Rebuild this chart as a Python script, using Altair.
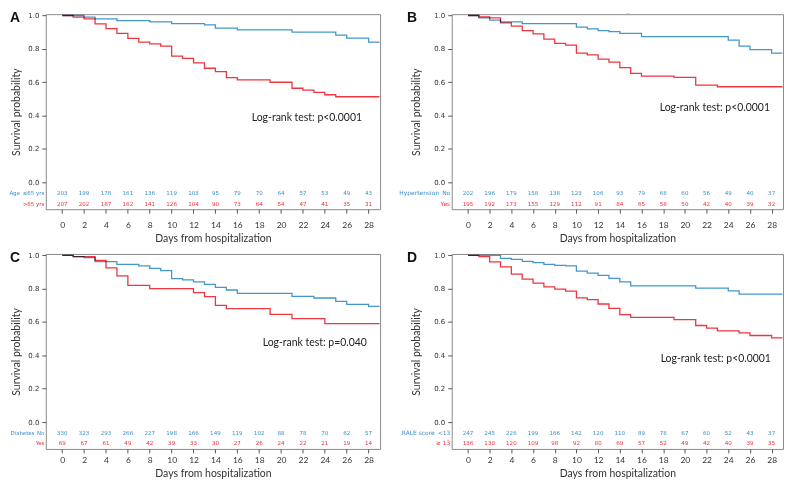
import altair as alt
import pandas as pd

BLUE = "#4596c9"
RED = "#ee3640"
BLUE_TXT = "#3b8fc6"
RED_TXT = "#ee2f3a"

DAY_TICKS = list(range(0, 29, 2))
SURV_TICKS = [0.0, 0.2, 0.4, 0.6, 0.8, 1.0]

# ---------------- Panel A: Age ----------------
A_b_days = [0, 2, 3, 5, 8, 10, 13, 14, 16, 21, 25, 26, 28, 29]
A_b_surv = [1.0, 0.990, 0.980, 0.970, 0.962, 0.952, 0.944, 0.924, 0.914, 0.900, 0.883, 0.865, 0.841, 0.841]
A_r_days = [0, 1, 2, 3, 4, 5, 6, 7, 8, 9, 10, 11, 12, 13, 14, 15, 16, 19, 21, 22, 23, 24, 25, 29]
A_r_surv = [1.0, 0.990, 0.980, 0.950, 0.922, 0.893, 0.863, 0.840, 0.830, 0.817, 0.757, 0.743, 0.716,
            0.684, 0.664, 0.628, 0.614, 0.600, 0.564, 0.553, 0.539, 0.525, 0.513, 0.513]
A_b_n = [203, 199, 178, 161, 136, 119, 103, 95, 79, 70, 64, 57, 53, 49, 43]
A_r_n = [207, 202, 187, 162, 141, 126, 104, 90, 73, 64, 54, 47, 41, 35, 31]

# ---------------- Panel B: Hypertension ----------------
B_b_days = [0, 1, 2, 3, 5, 10, 11, 12, 13, 14, 16, 24, 25, 26, 28, 29]
B_b_surv = [1.0, 0.986, 0.972, 0.962, 0.952, 0.930, 0.920, 0.909, 0.903, 0.893, 0.873, 0.853, 0.817,
            0.796, 0.774, 0.774]
B_r_days = [0, 1, 2, 3, 4, 5, 6, 7, 8, 9, 10, 11, 12, 13, 14, 15, 16, 19, 21, 23, 29]
B_r_surv = [1.0, 0.992, 0.986, 0.956, 0.937, 0.910, 0.890, 0.859, 0.833, 0.823, 0.774, 0.764, 0.738,
            0.720, 0.688, 0.653, 0.637, 0.629, 0.583, 0.573, 0.573]
B_b_n = [202, 196, 179, 158, 138, 123, 106, 93, 79, 68, 60, 56, 49, 40, 37]
B_r_n = [195, 192, 173, 155, 129, 112, 91, 84, 65, 58, 50, 42, 40, 39, 32]

# ---------------- Panel C: Diabetes ----------------
C_b_days = [0, 1, 2, 3, 5, 7, 8, 9, 10, 11, 12, 13, 14, 15, 16, 21, 23, 25, 26, 28, 29]
C_b_surv = [1.0, 0.992, 0.986, 0.962, 0.946, 0.936, 0.922, 0.908, 0.860, 0.852, 0.840, 0.826, 0.808,
            0.792, 0.772, 0.754, 0.744, 0.724, 0.706, 0.694, 0.694]
C_r_days = [0, 1, 3, 4, 5, 6, 8, 12, 13, 14, 15, 19, 21, 24, 29]
C_r_surv = [1.0, 0.992, 0.970, 0.924, 0.876, 0.820, 0.800, 0.776, 0.752, 0.700, 0.680, 0.646, 0.620,
            0.590, 0.590]
C_b_n = [330, 323, 293, 266, 227, 198, 166, 149, 119, 102, 88, 78, 70, 62, 57]
C_r_n = [69, 67, 61, 49, 42, 39, 33, 30, 27, 26, 24, 22, 21, 19, 14]

# ---------------- Panel D: RALE score ----------------
D_b_days = [0, 3, 4, 5, 6, 7, 8, 9, 10, 11, 12, 13, 14, 15, 21, 24, 25, 29]
D_b_surv = [1.0, 0.982, 0.976, 0.964, 0.956, 0.946, 0.940, 0.936, 0.905, 0.893, 0.879, 0.861, 0.841,
            0.817, 0.803, 0.787, 0.767, 0.767]
D_r_days = [0, 1, 2, 3, 4, 5, 6, 7, 8, 9, 10, 11, 12, 13, 14, 15, 19, 21, 22, 23, 25, 26, 28, 29]
D_r_surv = [1.0, 0.992, 0.960, 0.930, 0.887, 0.857, 0.833, 0.811, 0.797, 0.785, 0.745, 0.734, 0.708,
            0.682, 0.644, 0.628, 0.614, 0.579, 0.563, 0.547, 0.535, 0.519, 0.505, 0.505]
D_b_n = [247, 245, 226, 199, 166, 142, 120, 110, 89, 78, 67, 60, 52, 43, 37]
D_r_n = [136, 130, 120, 109, 98, 92, 80, 69, 57, 52, 49, 42, 40, 39, 35]


def panel(letter, letter_x, bd, bs, rd, rs, bn, rn, lab_b, lab_r, lab_size, ptext, px, py,
          title_pad, width, x_lab_pad, x_title_pad, extra=None):
    curve = pd.DataFrame({
        "day": bd + rd,
        "surv": bs + rs,
        "grp": ["b"] * len(bd) + ["r"] * len(rd),
    })
    xs = alt.Scale(domain=[-1.5, 29.05], nice=False, zero=False)
    ys = alt.Scale(domain=[-0.161, 1.008], nice=False, zero=False)
    x_axis = alt.Axis(values=DAY_TICKS, title="Days from hospitalization", tickSize=4,
                      labelPadding=x_lab_pad, labelFont="Lato", labelFontSize=8.5, labelOverlap=False,
                      titleFont="Lato", titleFontSize=10.5, titlePadding=x_title_pad)
    y_axis = alt.Axis(values=SURV_TICKS, format=".1f", title="Survival probability", tickSize=4,
                      labelPadding=3, labelFont="DejaVu Sans", labelFontSize=7, labelOverlap=False,
                      titleFont="Lato", titleFontSize=10.5, titlePadding=title_pad)
    X = alt.X("day:Q", scale=xs, axis=x_axis)
    Yrow = alt.Y("row:Q", scale=ys, axis=y_axis)
    lines = alt.Chart(curve).mark_line(interpolate="step-after", strokeWidth=1.3, blend="multiply").encode(
        x=X,
        y=alt.Y("surv:Q", scale=ys, axis=y_axis),
        color=alt.Color("grp:N", scale=alt.Scale(domain=["b", "r"], range=[BLUE, RED]), legend=None),
    )
    risk_b = alt.Chart(pd.DataFrame({"day": DAY_TICKS, "n": bn})).transform_calculate(
        row="-0.063").mark_text(
        font="DejaVu Sans", fontSize=5.6, color=BLUE_TXT, baseline="middle").encode(
        x=X, y=Yrow, text="n:Q")
    risk_r = alt.Chart(pd.DataFrame({"day": DAY_TICKS, "n": rn})).transform_calculate(
        row="-0.128").mark_text(
        font="DejaVu Sans", fontSize=5.6, color=RED_TXT, baseline="middle").encode(
        x=X, y=Yrow, text="n:Q")
    lbl_b = alt.Chart(pd.DataFrame({"t": [lab_b]})).transform_calculate(row="-0.063").mark_text(
        font="DejaVu Sans", fontSize=lab_size, color=BLUE_TXT, align="right", baseline="middle").encode(
        x=alt.value(-1.5), y=Yrow, text="t:N")
    lbl_r = alt.Chart(pd.DataFrame({"t": [lab_r]})).transform_calculate(row="-0.128").mark_text(
        font="DejaVu Sans", fontSize=lab_size, color=RED_TXT, align="right", baseline="middle").encode(
        x=alt.value(-1.5), y=Yrow, text="t:N")
    let = alt.Chart(pd.DataFrame({"t": [letter]})).mark_text(
        font="Liberation Sans", fontSize=14, fontWeight="bold", color="#111", align="left",
        baseline="top").encode(x=alt.value(letter_x), y=alt.value(-3), text="t:N")
    pv = alt.Chart(pd.DataFrame({"t": [ptext]})).mark_text(
        font="Lato", fontSize=10.5, color="#222", align="left", baseline="middle").encode(
        x=alt.value(px), y=alt.value(py), text="t:N")
    layers = [lines, risk_b, risk_r, lbl_b, lbl_r, let, pv]
    if extra is not None:
        ex = alt.Chart(pd.DataFrame({"t": [extra]})).mark_text(
            font="DejaVu Sans", fontSize=6, color="#555", baseline="middle").encode(
            x=alt.value(177), y=alt.value(-1), text="t:N")
        layers.append(ex)
    return alt.layer(*layers).properties(width=width, height=196)


pA = panel("A", -36, A_b_days, A_b_surv, A_r_days, A_r_surv, A_b_n, A_r_n,
           "Age\u2002\u226465 yrs", ">65 yrs", 5.5, "Log-rank test: p<0.0001", 207, 104, 6, 336, 7, 5)
pB = panel("B", -45, B_b_days, B_b_surv, B_r_days, B_r_surv, B_b_n, B_r_n,
           "Hypertension\u2002No", "Yes", 6, "Log-rank test: p<0.0001", 209, 94, 12, 333, 7, 5,
           extra="--")
pC = panel("C", -36, C_b_days, C_b_surv, C_r_days, C_r_surv, C_b_n, C_r_n,
           "Diabetes\u2002No", "Yes", 5.4, "Log-rank test: p=0.040", 218, 90, 6, 336, 3, 4)
pD = panel("D", -45, D_b_days, D_b_surv, D_r_days, D_r_surv, D_b_n, D_r_n,
           "RALE score\u2002<13", "\u2265 13", 6, "Log-rank test: p<0.0001", 210, 106, 12, 333, 3, 4)

chart = alt.concat(pA, pB, pC, pD, columns=2, spacing={"row": 45, "column": 72}, bounds="flush").properties(
    padding=0
).configure_view(
    stroke="#8a8a8a", strokeWidth=1
).configure_axis(
    domain=False, grid=False, tickColor="#555", labelColor="#333", titleColor="#333",
    titleFontWeight="normal"
).configure_axisY(
    labelOverlap=False
)

chart.save("out.html", embed_options={"renderer": "svg", "actions": False})
